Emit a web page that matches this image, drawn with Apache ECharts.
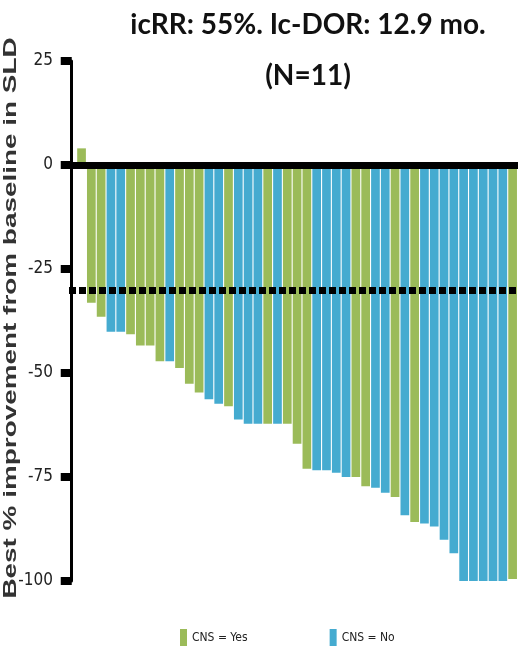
<!DOCTYPE html>
<html>
<head>
<meta charset="utf-8">
<script src="https://cdn.jsdelivr.net/npm/echarts@6/dist/echarts.min.js"></script>
<style>
  html, body { margin: 0; padding: 0; background: #ffffff; }
  #chart { width: 518px; height: 646px; }
</style>
</head>
<body>
<div id="chart"></div>
<script>
// Best % change from baseline in sum of longest diameters, one bar per patient
const patientIds = [1,2,3,4,5,6,7,8,9,10,11,12,13,14,15,16,17,18,19,20,21,22,23,24,25,26,27,28,29,30,31,32,33,34,35,36,37,38,39,40,41,42,43,44,45];
const bestChange = [4, -33.1, -36.5, -40.1, -40.1, -40.7, -43.4, -43.4, -47.2, -47.2, -48.8, -52.6, -54.7, -56.3, -57.4,
  -58.0, -61.2, -62.2, -62.2, -62.2, -62.2, -62.2, -67.0, -73.0, -73.4, -73.4, -74.0, -75.0, -75.0, -77.2,
  -77.6, -78.8, -79.8, -84.2, -85.8, -86.2, -86.9, -90.1, -93.3, -100, -100, -100, -100, -100, -99.5];
// CNS involvement at baseline: Y = yes, N = no
const cnsStatus = ['Y','Y','Y','N','N','Y','Y','Y','Y','N','Y','Y','Y','N','N',
  'Y','N','N','N','Y','N','Y','Y','Y','N','N','N','N','Y','Y',
  'N','N','Y','N','Y','N','N','N','N','N','N','N','N','N','Y'];
const yTicks = [25, 0, -25, -50, -75, -100];
const responseThreshold = -30;
const seriesNames = ['CNS = Yes', 'CNS = No'];

const GREEN = '#9bbb59';
const BLUE = '#45abd0';
const NARROW = "'DejaVu Sans Condensed', 'Liberation Sans Narrow', 'Liberation Sans', sans-serif";

const yesData = patientIds.map((id, i) => cnsStatus[i] === 'Y' ? [id, bestChange[i]] : [id, null]);
const noData = patientIds.map((id, i) => cnsStatus[i] === 'N' ? [id, bestChange[i]] : [id, null]);

const chart = echarts.init(document.getElementById('chart'), null, { renderer: 'canvas' });

chart.setOption({
  animation: false,
  backgroundColor: '#ffffff',
  title: {
    text: 'icRR: 55%. Ic-DOR: 12.9 mo.\n(N=11)',
    left: 303,
    top: -6,
    textAlign: 'center',
    textStyle: {
      fontFamily: 'Lato',
      fontWeight: 'bold',
      fontSize: 28,
      lineHeight: 51,
      color: '#111111'
    }
  },
  grid: { left: 69, right: 0, top: 61, bottom: 65, containLabel: false },
  xAxis: {
    type: 'value',
    min: -0.28,
    max: 45.55,
    z: 3,
    splitLine: { show: false },
    axisTick: { show: false },
    axisLabel: { show: false },
    axisLine: { show: true, onZero: true, lineStyle: { color: '#000000', width: 7 } }
  },
  yAxis: {
    type: 'value',
    min: yTicks[yTicks.length - 1],
    max: yTicks[0],
    interval: 25,
    splitLine: { show: false },
    axisLine: { show: true, lineStyle: { color: '#000000', width: 3 } },
    axisTick: { show: true, length: 11, lineStyle: { color: '#000000', width: 8 } },
    axisLabel: {
      margin: 16,
      fontFamily: NARROW,
      fontSize: 17,
      color: '#222222'
    }
  },
  legend: {
    left: 175,
    top: 624,
    icon: 'rect',
    itemWidth: 7,
    itemHeight: 17,
    itemGap: 82,
    data: seriesNames,
    textStyle: { fontFamily: NARROW, fontSize: 12, color: '#222222' }
  },
  series: [
    {
      name: seriesNames[0],
      type: 'bar',
      data: yesData,
      barWidth: 8.7,
      barGap: '-100%',
      itemStyle: { color: GREEN },
      markLine: {
        silent: true,
        symbol: 'none',
        z: 5,
        label: { show: false },
        lineStyle: { color: '#000000', width: 7, type: [7, 3], cap: 'butt' },
        data: [{ yAxis: responseThreshold }]
      }
    },
    {
      name: seriesNames[1],
      type: 'bar',
      data: noData,
      barWidth: 8.7,
      barGap: '-100%',
      itemStyle: { color: BLUE }
    }
  ],
  graphic: [
    {
      type: 'text',
      x: 11,
      y: 318,
      rotation: Math.PI / 2,
      scaleX: 1.55,
      style: {
        text: 'Best % improvement from baseline in SLD',
        fontFamily: 'Liberation Sans',
        fontWeight: 'bold',
        fontSize: 18,
        fill: '#333333',
        align: 'center',
        verticalAlign: 'middle'
      }
    }
  ]
});
</script>
</body>
</html>
